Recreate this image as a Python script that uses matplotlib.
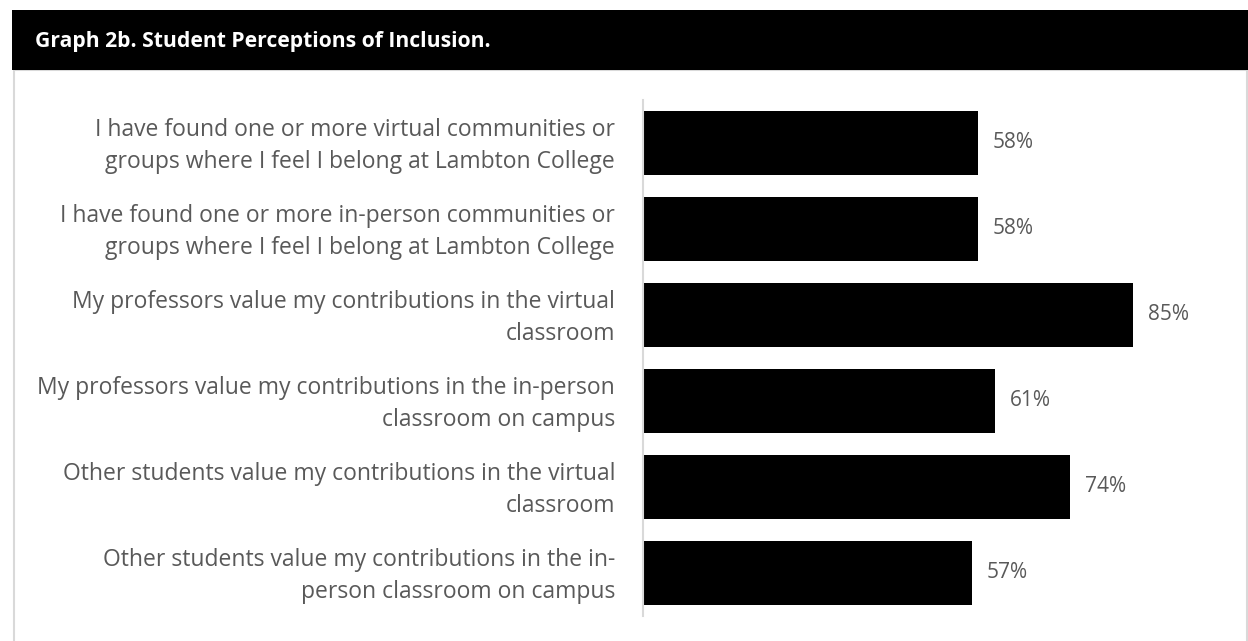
import matplotlib.pyplot as plt
import matplotlib.transforms as mtransforms
from matplotlib.patches import Rectangle

# data
labels = [
    "I have found one or more virtual communities or\ngroups where I feel I belong at Lambton College",
    "I have found one or more in-person communities or\ngroups where I feel I belong at Lambton College",
    "My professors value my contributions in the virtual\nclassroom",
    "My professors value my contributions in the in-person\nclassroom on campus",
    "Other students value my contributions in the virtual\nclassroom",
    "Other students value my contributions in the in-\nperson classroom on campus",
]
values = [0.58, 0.58, 0.85, 0.61, 0.74, 0.57]
title = "Graph 2b. Student Perceptions of Inclusion."

W, H = 1248, 641
fig = plt.figure(figsize=(W / 100, H / 100), dpi=100)
plt.rcParams['font.family'] = ['Open Sans', 'DejaVu Sans']

# frame and header (drawn behind the axes)
fig.patches.append(Rectangle((13.5 / W, -0.01), (1247 - 13.5) / W, 1.01 - 70 / H,
                             transform=fig.transFigure, facecolor="white",
                             edgecolor="#d9d9d9", linewidth=1.5, zorder=-2))
fig.patches.append(Rectangle((12 / W, 1 - 70 / H), (W - 12) / W, 60 / H,
                             transform=fig.transFigure, facecolor="black",
                             edgecolor="none", zorder=-1))
fig.text(35 / W, 1 - 41 / H, title, color="white", fontsize=15.2,
         fontweight="bold", va="center", ha="left")

ax = fig.add_axes([643 / W, 1 - 616 / H, (1220 - 643) / W, 516 / H])
ax.patch.set_alpha(0)
y = list(range(len(values)))
ax.barh(y, values, height=0.745, color="black")
ax.set_ylim(len(values) - 0.5, -0.5)
ax.set_xlim(0, 1)
ax.set_yticks(y)
ax.set_yticklabels(labels, fontsize=16.5, color="#595959", ha="right",
                   linespacing=1.43)
ax.tick_params(axis="y", length=0, pad=20)
ax.set_xticks([])
for s in ["top", "right", "bottom"]:
    ax.spines[s].set_visible(False)
ax.spines["left"].set_color("#d9d9d9")
ax.spines["left"].set_linewidth(1.5)

# nudge the labels up a little so they sit centred on the bars
shift = mtransforms.ScaledTranslation(0, 4 / 100, fig.dpi_scale_trans)
for lbl in ax.get_yticklabels():
    lbl.set_transform(lbl.get_transform() + shift)

for i, v in enumerate(values):
    ax.text(v + 0.026, i, "{0:.0%}".format(v), va="center", ha="left",
            fontsize=15, color="#595959")

fig.savefig("out.png", dpi=100)
